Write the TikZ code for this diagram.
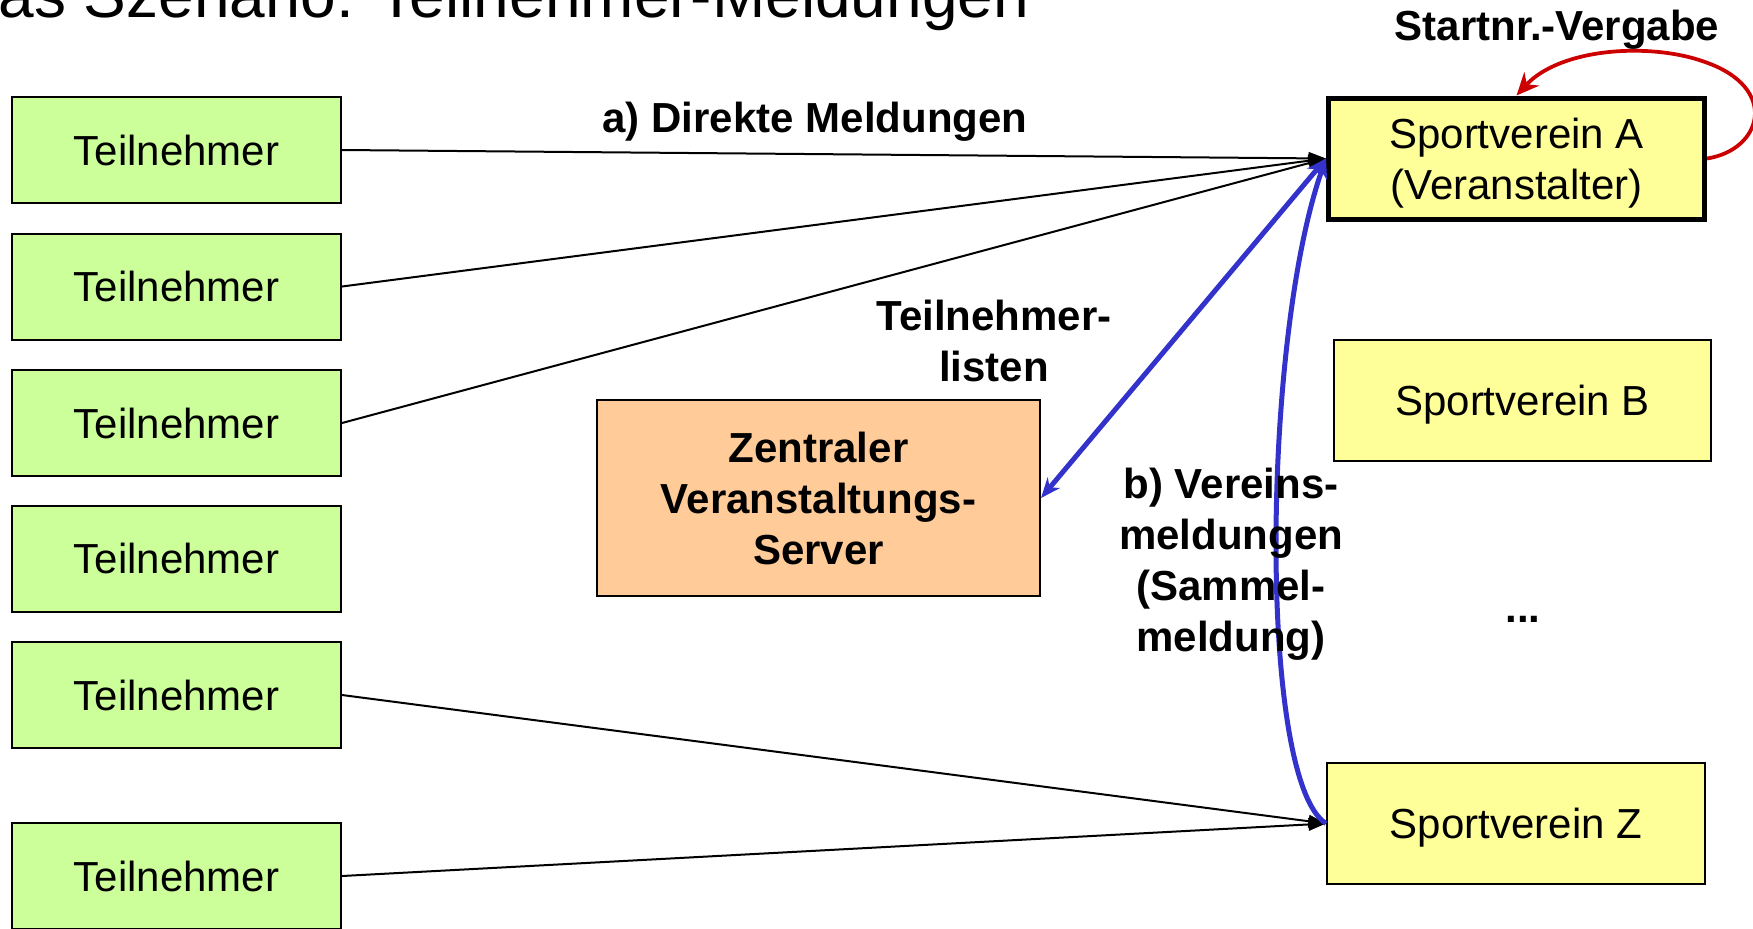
\documentclass[tikz,border=0pt]{standalone}
\usepackage{fontspec}
\setmainfont{Liberation Sans}
\usetikzlibrary{arrows.meta}
\definecolor{tgreen}{HTML}{CCFF99}
\definecolor{svyellow}{HTML}{FFFF99}
\definecolor{srvorange}{HTML}{FFCC99}
\definecolor{arrblue}{HTML}{3333CC}
\definecolor{arrred}{HTML}{CC0000}
\tikzset{btip/.tip={Stealth[length=8pt,width=6.5pt]}}
\begin{document}
\begin{tikzpicture}[x=0.4pt,y=-0.4pt,
  box/.style={draw=black, line width=0.8pt, inner sep=0pt, font=\fontsize{16.8}{20.4}\selectfont, align=center},
  tbox/.style={box, fill=tgreen, minimum width=131.6pt, minimum height=42.4pt},
  svbox/.style={box, fill=svyellow, minimum width=151pt, minimum height=48.4pt, text height=15.8pt, text depth=3.6pt},
  lbl/.style={font=\bfseries\fontsize{16.8}{20.4}\selectfont, align=center, inner sep=0pt},
  msg/.style={draw=black, line width=0.8pt, -{Triangle[length=7pt,width=5pt]}},
  bluearrow/.style={draw=arrblue, line width=2pt},
  redarrow/.style={draw=arrred, line width=1.5pt, -{Stealth[length=9pt,width=8pt]}}
]
\useasboundingbox (0,0) rectangle (1753,928);

\node[anchor=base west, inner sep=0pt, font=\fontsize{25.6}{30}\selectfont] (title) at (-2,17) {as Szenario: Teilnehmer-Meldungen};

% participants
\node[tbox] (t1) at (176.5,150) {Teilnehmer};
\node[tbox] (t2) at (176.5,286.5) {Teilnehmer};
\node[tbox] (t3) at (176.5,423) {Teilnehmer};
\node[tbox] (t4) at (176.5,558.5) {Teilnehmer};
\node[tbox] (t5) at (176.5,695) {Teilnehmer};
\node[tbox] (t6) at (176.5,876) {Teilnehmer};

% clubs
\node[svbox, line width=2pt, minimum width=150.4pt, minimum height=48.4pt, text height=36.3pt, text depth=3.6pt] (A) at (1516.5,158.5) {Sportverein A\\(Veranstalter)};
\node[svbox, minimum width=150.8pt] (B) at (1522.5,400.5) {Sportverein B};
\node[svbox, minimum width=151.2pt] (Z) at (1516,823.5) {Sportverein Z};

% server
\node[box, fill=srvorange, minimum width=177.2pt, minimum height=78.4pt, font=\bfseries\fontsize{16.8}{20.4}\selectfont] (srv) at (818.5,498) {Zentraler\\Veranstaltungs-\\Server};

% direct messages
\draw[msg] (t1.east) -- (A.west);
\draw[msg] (t2.east) -- (A.west);
\draw[msg] (t3.east) -- (A.west);
\draw[msg] (t5.east) -- (Z.west);
\draw[msg] (t6.east) -- (Z.west);

% blue connectors
\draw[bluearrow, btip-btip] (A.west) -- (srv.east);
\draw[bluearrow, -btip] (Z.west) .. controls (1258,780) and (1262,340) .. (A.west);

% red self loop
\draw[redarrow] (A.east) .. controls (1762,150) and (1780,88) .. (1705,62) .. controls (1650,42) and (1560,48) .. (A.north);

% labels
\node[lbl, anchor=base] (la) at (815,132) {a) Direkte Meldungen};
\node[lbl, anchor=base] (lstart) at (1557,40) {Startnr.-Vergabe};
\node[lbl] (llist) at (994,340.5) {Teilnehmer-\\listen};
\node[lbl] (lb) at (1231,564.5) {b) Vereins-\\meldungen\\(Sammel-\\meldung)};
\node[lbl, anchor=base] (dots) at (1523,622) {...};
\end{tikzpicture}
\end{document}
